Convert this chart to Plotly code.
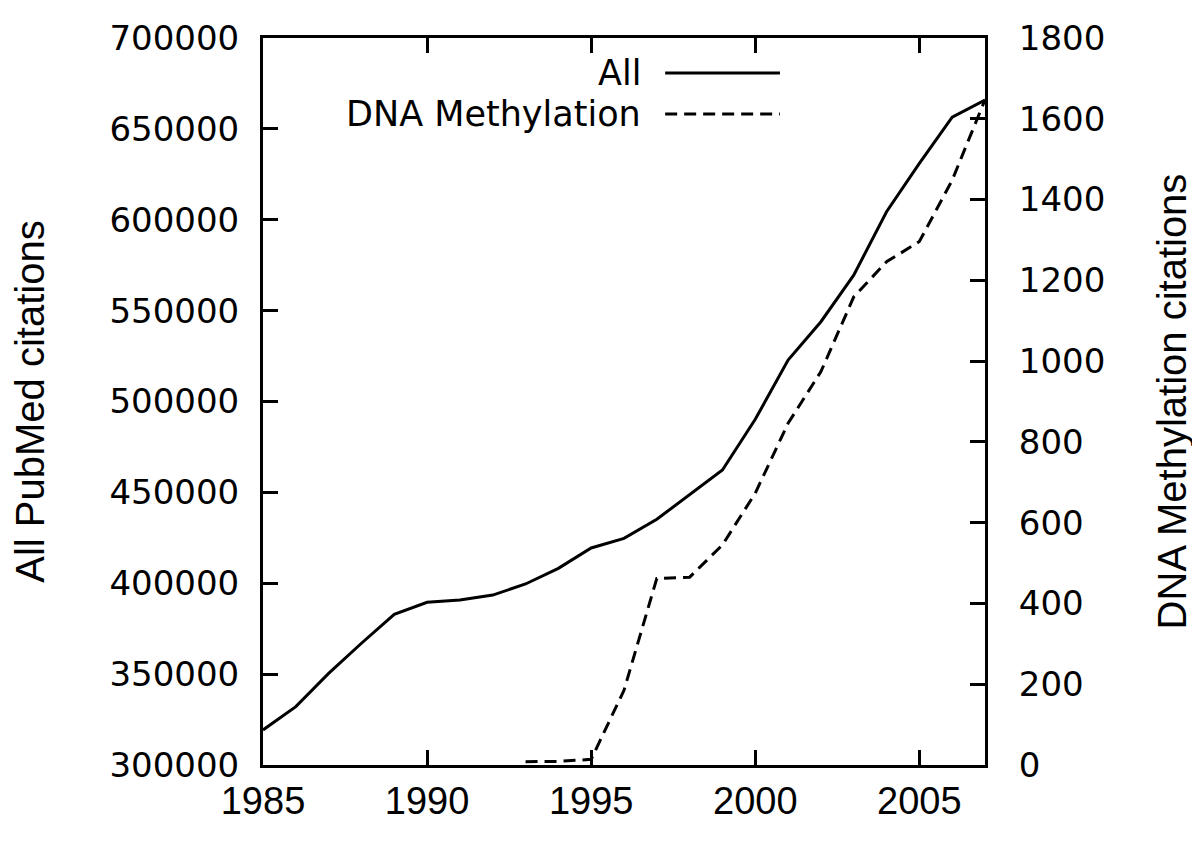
import plotly.graph_objects as go

years_all = list(range(1985, 2008))
all_citations = [319300, 332100, 350400, 367000, 382900, 389500, 390800, 393500,
                 399600, 408200, 419400, 424700, 435200, 448600, 462300, 490200,
                 522800, 543900, 569500, 604400, 631000, 656400, 665900]

years_dna = list(range(1993, 2008))
dna_citations = [8, 9, 14, 185, 462, 465, 545, 673, 846, 974, 1159, 1246, 1296, 1448, 1647]

x_ticks = [1985, 1990, 1995, 2000, 2005]
y_ticks = list(range(300000, 700001, 50000))
y2_ticks = list(range(0, 1801, 200))

fig = go.Figure()
fig.add_trace(go.Scatter(x=years_all, y=all_citations, mode="lines", name="All",
                         line=dict(color="black", width=3), yaxis="y"))
fig.add_trace(go.Scatter(x=years_dna, y=dna_citations, mode="lines", name="DNA Methylation",
                         line=dict(color="black", width=3, dash="12px,7px"), yaxis="y2"))

axis_font = dict(family="Liberation Sans, Arial, sans-serif", size=40, color="black")

fig.update_layout(
    width=1200, height=844,
    margin=dict(l=255, r=223, t=30, b=87, autoexpand=False),
    plot_bgcolor="white", paper_bgcolor="white",
    showlegend=False,
    xaxis=dict(range=[1985, 2007], tickvals=x_ticks, ticktext=[str(v) for v in x_ticks],
               ticks="inside", ticklen=15, tickwidth=3, tickcolor="black",
               showline=True, linewidth=3, linecolor="black", mirror="ticks",
               showgrid=False, zeroline=False, automargin=False,
               tickfont=dict(family="Liberation Sans, Arial, sans-serif", size=38, color="black")),
    yaxis=dict(range=[300000, 700000], tickvals=y_ticks, ticktext=[str(v) for v in y_ticks],
               ticks="inside", ticklen=15, tickwidth=3, tickcolor="black",
               showline=True, linewidth=3, linecolor="black",
               showgrid=False, zeroline=False, ticklabelstandoff=14, automargin=False,
               tickfont=dict(family="DejaVu Sans, sans-serif", size=34, color="black"),
               title=dict(text="All PubMed citations", font=axis_font, standoff=60)),
    yaxis2=dict(range=[0, 1800], tickvals=y2_ticks, ticktext=[str(v) for v in y2_ticks],
                overlaying="y", side="right",
                ticks="inside", ticklen=15, tickwidth=3, tickcolor="black",
                showline=True, linewidth=3, linecolor="black",
                showgrid=False, zeroline=False, ticklabelstandoff=24, automargin=False,
                tickfont=dict(family="DejaVu Sans, sans-serif", size=34, color="black"),
                title=dict(text="DNA Methylation citations", font=axis_font, standoff=54)),
)

# Legend (gnuplot style: label left of sample)
legend_font = dict(family="DejaVu Sans, sans-serif", size=35, color="black")
legend_items = [("All", 0.952, "solid"), ("DNA Methylation", 0.8955, "12px,7px")]
for label, yp, dash in legend_items:
    fig.add_annotation(x=0.526, y=yp, xref="paper", yref="paper", text=label,
                       showarrow=False, xanchor="right", yanchor="middle", font=legend_font)
    fig.add_shape(type="line", xref="paper", yref="paper", x0=0.557, x1=0.716, y0=yp, y1=yp,
                  line=dict(color="black", width=3, dash=dash))

fig.write_html("out.html")
